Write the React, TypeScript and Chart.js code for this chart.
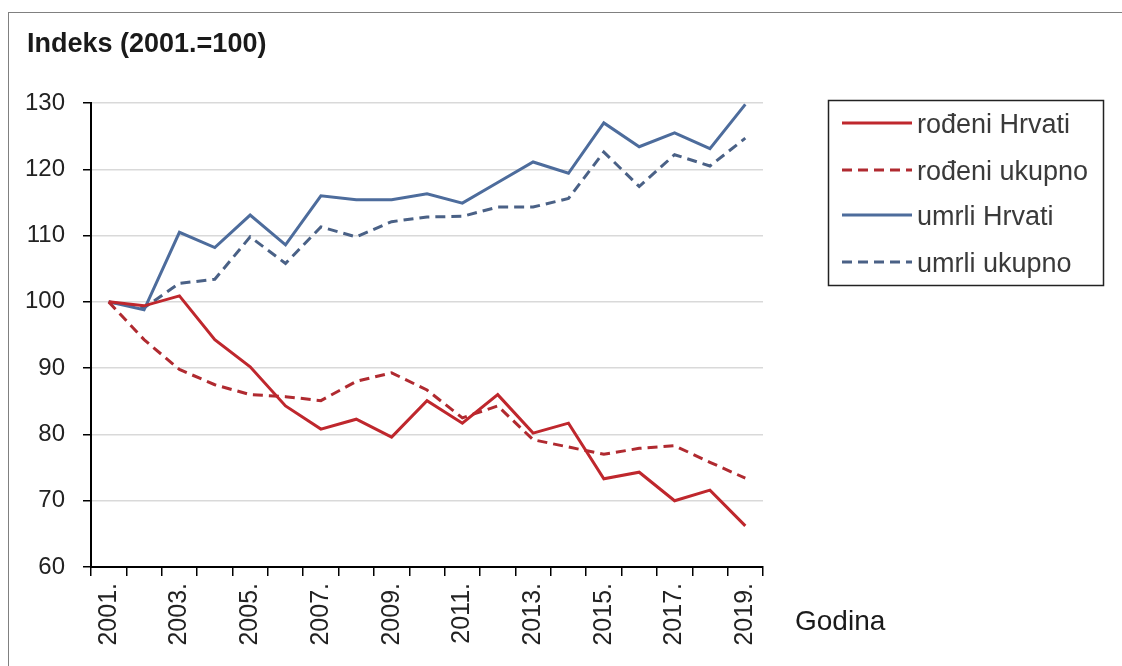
import React, { useEffect, useRef } from "react";
import { Chart, registerables } from "chart.js";

Chart.register(...registerables);

const years = ["2001.", "2002.", "2003.", "2004.", "2005.", "2006.", "2007.", "2008.", "2009.", "2010.", "2011.", "2012.", "2013.", "2014.", "2015.", "2016.", "2017.", "2018.", "2019."];
const rodeniHrvati = [100, 99.4, 100.9, 94.3, 90.2, 84.3, 80.8, 82.3, 79.6, 85.1, 81.7, 86.0, 80.2, 81.7, 73.3, 74.3, 70.0, 71.6, 66.2];
const rodeniUkupno = [100, 94.3, 89.8, 87.5, 86.0, 85.7, 85.1, 88.0, 89.3, 86.7, 82.5, 84.3, 79.2, 78.1, 77.0, 77.9, 78.3, 75.8, 73.4];
const umrliHrvati = [100, 98.8, 110.5, 108.2, 113.1, 108.6, 116.0, 115.4, 115.4, 116.3, 114.9, 118.0, 121.1, 119.4, 127.0, 123.4, 125.5, 123.1, 129.8];
const umrliUkupno = [100, 99.1, 102.8, 103.4, 109.8, 105.8, 111.3, 109.8, 112.1, 112.8, 112.9, 114.3, 114.3, 115.6, 122.6, 117.4, 122.2, 120.5, 124.7];
const seriesNames = ["rođeni Hrvati", "rođeni ukupno", "umrli Hrvati", "umrli ukupno"];
const yTicks = [60, 70, 80, 90, 100, 110, 120, 130];

const FONT = '"Liberation Sans", Arial, sans-serif';
const RED = "#bf272d";
const RED_D = "#b02a30";
const BLUE = "#4d6c9c";
const BLUE_D = "#4a6186";
const DASH = [10, 6];

const extrasPlugin = {
  id: "extras",
  afterDraw(chart: any) {
    const ctx = chart.ctx as CanvasRenderingContext2D;
    ctx.save();
    // title
    ctx.fillStyle = "#1a1a1a";
    ctx.font = `bold 27px ${FONT}`;
    ctx.textAlign = "left";
    ctx.textBaseline = "alphabetic";
    ctx.fillText("Indeks (2001.=100)", 27, 52);
    // x axis title
    ctx.font = `28px ${FONT}`;
    ctx.fillText("Godina", 795, 630);
    // legend
    ctx.strokeStyle = "#222";
    ctx.lineWidth = 1.5;
    ctx.strokeRect(828.5, 100.5, 275, 185);
    const rows = [123, 170, 215, 262];
    chart.data.datasets.forEach((ds: any, i: number) => {
      const y = rows[i];
      ctx.beginPath();
      ctx.setLineDash(ds.borderDash || []);
      ctx.strokeStyle = ds.borderColor;
      ctx.lineWidth = 3;
      ctx.moveTo(842, y);
      ctx.lineTo(912, y);
      ctx.stroke();
      ctx.setLineDash([]);
      ctx.fillStyle = "#3a3a3a";
      ctx.font = `27px ${FONT}`;
      ctx.fillText(ds.label, 917, y + 10);
    });
    ctx.restore();
  },
};

export default function App() {
  const ref = useRef<HTMLCanvasElement>(null);
  useEffect(() => {
    if (!ref.current) return;
    const chart = new Chart(ref.current, {
      type: "line",
      data: {
        labels: years,
        datasets: [
          { label: seriesNames[0], data: rodeniHrvati, borderColor: RED, borderWidth: 3, pointRadius: 0, tension: 0 },
          { label: seriesNames[1], data: rodeniUkupno, borderColor: RED_D, borderWidth: 3, borderDash: DASH, pointRadius: 0, tension: 0 },
          { label: seriesNames[2], data: umrliHrvati, borderColor: BLUE, borderWidth: 3, pointRadius: 0, tension: 0 },
          { label: seriesNames[3], data: umrliUkupno, borderColor: BLUE_D, borderWidth: 3, borderDash: DASH, pointRadius: 0, tension: 0 },
        ],
      },
      options: {
        animation: false,
        responsive: false,
        devicePixelRatio: 1,
        layout: { padding: { left: 0, top: 103, right: 359, bottom: 0 } },
        plugins: { legend: { display: false }, tooltip: { enabled: false }, title: { display: false } },
        scales: {
          x: {
            type: "category",
            offset: true,
            afterFit: (s: any) => { s.height = 99; },
            grid: { offset: true, drawOnChartArea: false, drawTicks: true, tickLength: 9, tickColor: "#000", lineWidth: 1.5 },
            border: { color: "#000", width: 2 },
            ticks: {
              autoSkip: false,
              maxRotation: 90,
              minRotation: 90,
              padding: 7,
              color: "#222",
              font: { family: FONT, size: 25 },
              callback: (_v: any, i: number) => (i % 2 === 0 ? years[i] : ""),
            },
          },
          y: {
            min: 60,
            max: 130,
            afterFit: (s: any) => { s.width = 91; },
            afterBuildTicks: (s: any) => { s.ticks = yTicks.map((v) => ({ value: v })); },
            grid: { color: "#d9d9d9", lineWidth: 1.5, tickColor: "#000", tickLength: 8 },
            border: { color: "#000", width: 2 },
            ticks: { padding: 18, color: "#222", font: { family: FONT, size: 24 } },
          },
        },
      },
      plugins: [extrasPlugin],
    });
    return () => chart.destroy();
  }, []);
  return (
    <div style={{ position: "fixed", left: 0, top: 0, width: 1122, height: 666, background: "#fff", overflow: "hidden" }}>
      <div style={{ position: "absolute", left: 8, top: 12, width: 1130, height: 670, border: "1.5px solid #808080", boxSizing: "border-box" }} />
      <canvas ref={ref} width={1122} height={666} style={{ position: "absolute", left: 0, top: 0, width: 1122, height: 666 }} />
    </div>
  );
}
